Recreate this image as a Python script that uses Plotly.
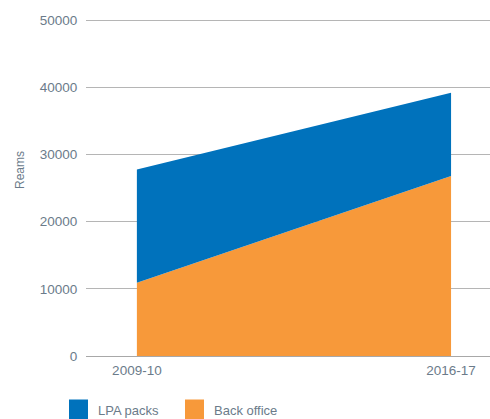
import plotly.graph_objects as go

# Paper usage (reams) by year
years = ["2009-10", "2016-17"]
back_office = [10900, 26800]
lpa_packs = [16900, 12400]

series_names = ["LPA packs", "Back office"]
series_colors = ["#0072bc", "#f7993a"]
y_ticks = [0, 10000, 20000, 30000, 40000, 50000]

text_color = "#6b7b8a"
grid_color = "#b5b5b5"
font_family = "Liberation Sans, Arial, sans-serif"

fig = go.Figure()

# stacked areas: back office at the base, LPA packs on top
fig.add_trace(go.Scatter(
    x=years, y=back_office, name=series_names[1],
    mode="lines", line=dict(width=0, color=series_colors[1]),
    fillcolor=series_colors[1],
    stackgroup="one", showlegend=False,
))
fig.add_trace(go.Scatter(
    x=years, y=lpa_packs, name=series_names[0],
    mode="lines", line=dict(width=0, color=series_colors[0]),
    fillcolor=series_colors[0],
    stackgroup="one", showlegend=False,
))

W, H = 490, 419
ml, mr, mt, mb = 86, 0, 17, 63
pw, ph = W - ml - mr, H - mt - mb


def px_x(px):
    return (px - ml) / pw


def px_y(py):
    return (H - mb - py) / ph


# custom legend: square swatches with labels below the plot
shapes = []
annotations = []
legend_x = [69, 185]
for name, color, lx in zip(series_names, series_colors, legend_x):
    shapes.append(dict(
        type="rect", xref="paper", yref="paper",
        x0=px_x(lx), x1=px_x(lx + 19), y0=px_y(419), y1=px_y(399.5),
        fillcolor=color, line=dict(width=0),
    ))
    annotations.append(dict(
        x=px_x(lx + 27), y=px_y(410), xref="paper", yref="paper",
        text=name, showarrow=False, xanchor="left", yanchor="middle",
        font=dict(size=13, color=text_color, family=font_family),
    ))

# y-axis title
annotations.append(dict(
    x=px_x(20), y=px_y(170), xref="paper", yref="paper",
    text="Reams", textangle=-90, showarrow=False,
    xanchor="center", yanchor="middle",
    font=dict(size=12, color=text_color, family=font_family),
))

fig.update_layout(
    width=W, height=H,
    margin=dict(l=ml, r=mr, t=mt, b=mb),
    paper_bgcolor="white", plot_bgcolor="white",
    font=dict(family=font_family, color=text_color, size=13.5),
    shapes=shapes, annotations=annotations,
    showlegend=False,
)
fig.update_xaxes(
    type="category", range=[-0.162, 1.124],
    showgrid=False, zeroline=False, showline=False,
    ticks="outside", ticklen=2, tickcolor="rgba(0,0,0,0)",
    tickfont=dict(size=13.5, color=text_color),
)
fig.update_yaxes(
    range=[0, 50500], tickvals=y_ticks, ticktext=[str(v) for v in y_ticks],
    showgrid=True, gridcolor=grid_color, gridwidth=1,
    zeroline=True, zerolinecolor="#a8a8a8", zerolinewidth=1,
    showline=False,
    ticks="outside", ticklen=5, tickcolor="rgba(0,0,0,0)",
    tickfont=dict(size=13.5, color=text_color),
)

fig.write_html("out.html")
